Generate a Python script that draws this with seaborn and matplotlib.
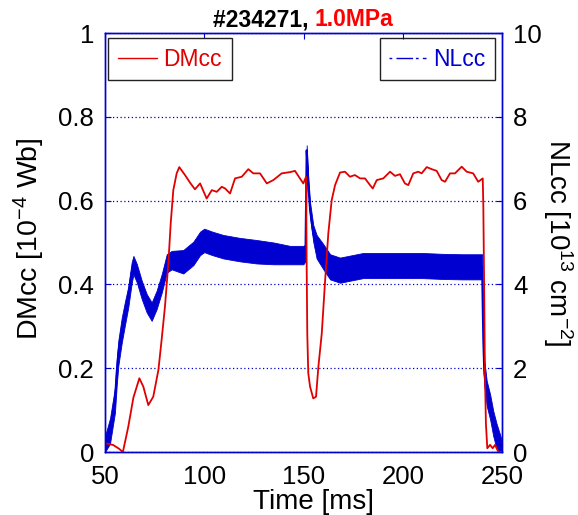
import matplotlib
matplotlib.use('Agg')
import matplotlib.pyplot as plt
from matplotlib.lines import Line2D
import seaborn as sns
import numpy as np

# DMcc trace [1e-4 Wb]
dm_t = [50, 54, 57, 59, 61.7, 64.3, 67.3, 69.3, 71.8, 74.3, 76.9, 78.5, 80.2, 81.9, 83.1,
        84.4, 86.1, 87.4, 90.3, 92.8, 95.3, 97.9, 101.2, 103.8, 106.3, 108.8, 110.5, 113,
        115.5, 118.9, 122.2, 124.7, 128.1, 131.5, 134.8, 139, 143.2, 145.7, 148.2, 149.9,
        151.3, 151.6, 151.9, 152.4, 153.3, 154.9, 156.3, 157.5, 159.2, 160.8, 162.5, 164.2,
        165.9, 168.4, 170.9, 173.4, 175.9, 178.5, 181, 183.5, 184.9, 186.9, 190.2, 193.6,
        196.1, 198.6, 201.1, 202.8, 205.3, 207.8, 209.5, 212.1, 214.6, 217.1, 219.6, 221.3,
        223.8, 226.3, 229.7, 232.2, 235.5, 238, 240.3, 240.6, 241.1, 241.4, 241.9, 242.6,
        244, 245.3, 246.5, 248.2, 250]
dm_val = [0.021, 0.017, 0.008, 0.0, 0.06, 0.13, 0.176, 0.156, 0.112, 0.132, 0.196, 0.267,
          0.347, 0.45, 0.546, 0.625, 0.665, 0.68, 0.661, 0.643, 0.627, 0.641, 0.605, 0.625,
          0.621, 0.633, 0.629, 0.617, 0.653, 0.657, 0.675, 0.665, 0.665, 0.641, 0.649, 0.665,
          0.668, 0.671, 0.653, 0.641, 0.657, 0.442, 0.283, 0.188, 0.156, 0.128, 0.132, 0.204,
          0.283, 0.403, 0.522, 0.601, 0.637, 0.667, 0.669, 0.657, 0.661, 0.653, 0.653, 0.637,
          0.629, 0.649, 0.653, 0.669, 0.659, 0.663, 0.641, 0.637, 0.665, 0.669, 0.665, 0.68,
          0.675, 0.671, 0.649, 0.645, 0.665, 0.665, 0.681, 0.669, 0.665, 0.645, 0.653, 0.585,
          0.347, 0.188, 0.068, 0.009, 0.017, 0.009, 0.017, 0.0, 0.0]

# NLcc trace [1e13 cm^-2]: middle of the noisy band and its half width
nl_t = [50, 52.5, 55, 55.9, 56.7, 58.4, 60, 61.7, 63.4, 64.3, 66, 68.5, 71, 73.5, 76, 78.6,
        81.1, 83.6, 89.4, 94.5, 97.9, 100, 104, 109.6, 118, 126.4, 135, 143.2, 149.9, 151,
        151.6, 152.4, 153.3, 154.9, 156.6, 160, 163.4, 168.4, 172.6, 180, 190, 200, 210, 220,
        230, 238, 240, 240.3, 240.6, 241.1, 242.3, 244, 245.6, 247.3, 249, 250]
nl_val = [0.13, 0.5, 1.24, 1.9, 2.36, 2.9, 3.3, 3.7, 4.27, 4.46, 4.27, 3.87, 3.55, 3.35, 3.63,
          4.03, 4.5, 4.58, 4.54, 4.74, 4.98, 5.05, 4.98, 4.9, 4.83, 4.78, 4.74, 4.7, 4.7, 4.75,
          7.2, 6.41, 5.78, 5.22, 4.9, 4.66, 4.42, 4.34, 4.38, 4.45, 4.45, 4.45, 4.45, 4.43,
          4.42, 4.42, 4.42, 3.47, 2.67, 1.88, 1.4, 1.08, 0.68, 0.37, 0.17, 0.1]
nl_spread = [0.25, 0.3, 0.3, 0.3, 0.3, 0.3, 0.28, 0.25, 0.25, 0.22, 0.22, 0.22, 0.22, 0.22, 0.22, 0.22,
             0.22, 0.22, 0.28, 0.28, 0.28, 0.28, 0.28, 0.28, 0.28, 0.28, 0.26, 0.22, 0.22, 0.2,
             0.12, 0.15, 0.18, 0.2, 0.28, 0.3, 0.3, 0.3, 0.3, 0.3, 0.3, 0.3, 0.3, 0.3,
             0.3, 0.3, 0.3, 0.3, 0.3, 0.3, 0.3, 0.3, 0.3, 0.3, 0.25, 0.15]

left_ticks = [0, 0.2, 0.4, 0.6, 0.8, 1]
left_labels = ['0', '0.2', '0.4', '0.6', '0.8', '1']
right_ticks = [0, 2, 4, 6, 8, 10]
time_ticks = [50, 100, 150, 200, 250]

RED = '#e00000'
BLUE = '#0000d0'

sns.set_style('white')
plt.rcParams['font.family'] = ['Liberation Sans', 'DejaVu Sans']
plt.rcParams['mathtext.default'] = 'regular'
plt.rcParams['text.color'] = 'black'
plt.rcParams['axes.labelcolor'] = 'black'

fig = plt.figure(figsize=(5.78, 5.15), dpi=100)
ax = fig.add_axes([0.1817, 0.1223, 0.6868, 0.8136])
ax2 = ax.twinx()

# blue band on the right axis
lo = np.clip(np.array(nl_val) - np.array(nl_spread), 0, None)
hi = np.array(nl_val) + np.array(nl_spread)
ax2.fill_between(nl_t, lo, hi, color=BLUE, lw=0.6, edgecolor=BLUE, zorder=2)
sns.lineplot(x=nl_t, y=nl_val, ax=ax2, color=BLUE, lw=1.5, estimator=None, zorder=3)

# red trace on the left axis, drawn above the blue
ax.set_zorder(ax2.get_zorder() + 1)
ax.patch.set_visible(False)
sns.lineplot(x=dm_t, y=dm_val, ax=ax, color=RED, lw=1.3, estimator=None)

ax.set_xlim(50, 250)
ax.set_ylim(0, 1)
ax2.set_ylim(0, 10)
ax.set_xticks(time_ticks)
ax.set_yticks(left_ticks)
ax.set_yticklabels(left_labels)
ax2.set_yticks(right_ticks)

ax2.grid(True, color=BLUE, ls=(0, (1, 2)), lw=0.9)
ax.grid(False)

for a in (ax, ax2):
    for s in a.spines.values():
        s.set_color(BLUE)
        s.set_linewidth(1.0)
ax.tick_params(axis='both', direction='in', length=4, color=BLUE, labelsize=18.5,
               labelcolor='black', top=True)
ax.tick_params(axis='y', pad=8)
ax.tick_params(axis='x', pad=9.5)
ax2.tick_params(axis='y', direction='in', length=4, color=BLUE, labelsize=18.5,
                labelcolor='black', pad=8)

ax.set_xlabel('Time [ms]', fontsize=20, labelpad=0)
ax.xaxis.label.set_x(0.524)
ax.set_ylabel('DMcc [10$^{-4}$ Wb]', fontsize=20.5)
ax.yaxis.set_label_coords(-0.146, 0.51)
ax2.set_ylabel('NLcc [10$^{13}$ cm$^{-2}$]', fontsize=20, rotation=270, va='bottom')
ax2.yaxis.set_label_coords(1.098, 0.5)

leg1 = ax.legend(handles=[Line2D([], [], color=RED, lw=1)], labels=['DMcc'],
                 loc='upper left', bbox_to_anchor=(0.0076, 0.988), borderaxespad=0,
                 fontsize=16.5, fancybox=False, framealpha=1, edgecolor='#222222',
                 handlelength=1.7, handletextpad=0.3, borderpad=0.42, labelcolor=RED)
leg1.get_frame().set_linewidth(1.0)
leg2 = ax2.legend(handles=[Line2D([], [], color=BLUE, lw=1, ls=(0, (2, 3, 12, 2)))],
                  labels=['NLcc'], loc='upper right', bbox_to_anchor=(0.982, 0.988),
                  borderaxespad=0, fontsize=16.5, fancybox=False, framealpha=1,
                  edgecolor='#222222', handlelength=1.6, handletextpad=0.3, borderpad=0.42,
                  labelcolor=BLUE)
leg2.get_frame().set_linewidth(1.0)

t1 = fig.text(213 / 578, 1 - 26 / 515, '#234271, ', fontsize=16.5, fontweight='bold',
              color='black', ha='left', va='baseline')
ax.annotate('1.0MPa', xy=(1, 0), xycoords=t1, fontsize=16.5, fontweight='bold',
            color='#ff0000', ha='left', va='bottom', annotation_clip=False)

fig.savefig('out.png', dpi=100)
